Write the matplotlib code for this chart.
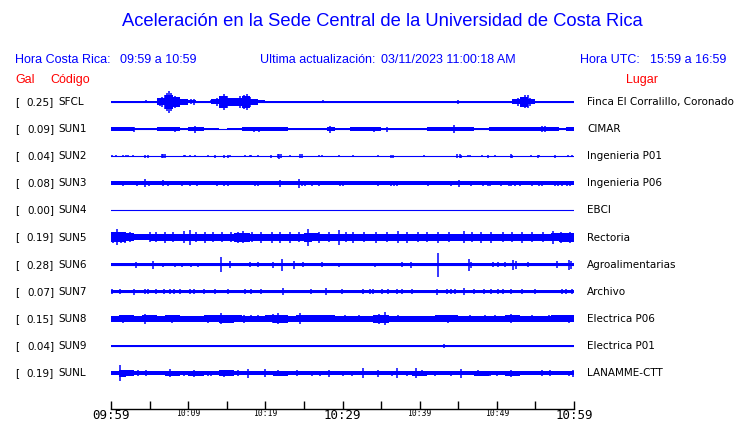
import numpy as np
import matplotlib.pyplot as plt

# station list (top to bottom)
codes = ["SFCL", "SUN1", "SUN2", "SUN3", "SUN4", "SUN5", "SUN6", "SUN7", "SUN8", "SUN9", "SUNL"]
gal = [0.25, 0.09, 0.04, 0.08, 0.00, 0.19, 0.28, 0.07, 0.15, 0.04, 0.19]
places = ["Finca El Corralillo, Coronado", "CIMAR", "Ingenieria P01", "Ingenieria P06", "EBCI",
          "Rectoria", "Agroalimentarias", "Archivo", "Electrica P06", "Electrica P01", "LANAMME-CTT"]

tick_min = [0, 5, 10, 15, 20, 25, 30, 35, 40, 45, 50, 55, 60]
tick_lbl = ["09:59", "", "10:09", "", "10:19", "", "10:29", "", "10:39", "", "10:49", "", "10:59"]
big_lbl = ["09:59", "10:29", "10:59"]

# trace envelopes: half amplitude (screen px) per minute
sfcl_env = [0.5, 1.0, 0.5, 0.5, 0.5, 0.5, 3.5, 7, 5, 3,
            1.5, 1, 0.5, 2.5, 6, 4, 4, 6, 3, 1.5,
            0.5, 0.5, 0.5, 0.5, 0.5, 0.5, 0.5, 0.5, 0.5, 0.5,
            0.5, 0.5, 0.5, 0.5, 0.5, 1, 1, 0.5, 0.5, 0.5,
            0.5, 0.5, 0.5, 1, 0.5, 0.5, 0.5, 0.5, 0.5, 0.5,
            0.5, 0.5, 2.5, 5, 2.5, 1, 0.5, 0.5, 0.5, 0.5]
sun1_env = [1.7, 1.7, 1.7, 1.0, 0.8, 1.0, 1.7, 1.7, 1.7, 1.0,
            1.7, 1.7, 1.0, 1.0, 0.5, 0.8, 1.0, 1.7, 1.7, 1.7,
            1.7, 1.7, 1.7, 1.2, 1.2, 1.2, 1.2, 1.2, 1.7, 0.8,
            0.8, 1.7, 1.7, 1.7, 1.7, 1.2, 1.2, 1.0, 1.0, 0.8,
            1.2, 1.7, 1.7, 1.7, 1.7, 1.7, 1.7, 0.8, 0.8, 1.7,
            1.7, 1.7, 1.7, 1.7, 1.7, 1.7, 1.7, 1.7, 1.2, 1.7]
sun2_env = 0.5
sun3_env = 1.8
sun4_env = 0.5
sun5_env = [5, 5, 4, 3, 3, 3.5, 3.5, 3.5, 3.5, 3.5,
            3.5, 3.5, 3.5, 3.5, 3.5, 3.5, 4.5, 4.5, 3.5, 3.5,
            3.5, 3.5, 3.5, 3.5, 3.5, 4.5, 4, 3.5, 3.5, 3.5,
            3.5, 3.5, 3.5, 3.5, 3.5, 3.5, 3.5, 3.5, 3.5, 3.5,
            3.5, 3.5, 3.5, 3.5, 3.5, 3.5, 3.5, 3.5, 3.5, 3.5,
            3.5, 3.5, 3.5, 3.5, 3.5, 3.5, 3.5, 4, 4.5, 4.5]
sun6_env = 1.8
sun7_env = 1.7
sun8_env = [2.7, 3.5, 3.5, 2.7, 3.5, 3.5, 2.7, 3.5, 3.5, 2.7,
            2.7, 2.7, 3.5, 3.5, 4, 4, 3.5, 2.7, 3, 2.7,
            3.5, 4, 4, 2.7, 3.5, 3.5, 3.5, 3.5, 3.5, 2.7,
            2.7, 2.7, 3, 2.7, 4, 4, 3, 2.7, 2.7, 2.7,
            2.7, 2.7, 3.5, 3.5, 3.5, 2.7, 3, 2.7, 3, 2.7,
            2.7, 3.5, 3.5, 3, 2.7, 3, 2.7, 3.5, 3.5, 3.5]
sun9_env = 1.2
sunl_env = [2, 3.5, 3, 2, 2, 2, 2, 2.5, 2.5, 2,
            2.5, 2.5, 2, 2, 3, 3, 2, 2, 2, 2,
            2, 2.5, 2.5, 2, 2, 2, 2, 2, 2, 2,
            2, 2, 2, 2, 2, 2, 2, 2, 2, 2.5,
            2.5, 2, 2, 2, 2, 2, 2, 2.5, 2.5, 2,
            2, 2.5, 2.5, 2, 2, 2, 2, 2, 2, 2]

# spikes: (minute, half amplitude px)
sfcl_spk = [(0.1, 1.2), (0.5, 1.2), (1.4, 1.2), (1.8, 1.2), (2.2, 1.2), (3.0, 1.2), (3.3, 1.2), (4.5, 1.5),
            (6.3, 4), (6.6, 5), (7.0, 7), (7.3, 9), (7.5, 11), (7.8, 9), (8.3, 6), (8.7, 5),
            (10.4, 2.5), (10.7, 3), (13.0, 1.5), (13.8, 4), (14.2, 6), (14.6, 8), (15.0, 6),
            (16.7, 6), (17.2, 7), (17.6, 8), (18.0, 5), (20.4, 1.2), (21.3, 1.2), (22.5, 1.2),
            (24.1, 1.2), (25.5, 1.2), (27.5, 1.5), (31.2, 1), (38.1, 1.2), (39.4, 1.2), (40.3, 1.2),
            (41.3, 1.2), (42.4, 1.2), (45.0, 2), (46.5, 1.2), (47.2, 1.2), (49.1, 1.2), (49.8, 1.2),
            (50.2, 1.2), (51.3, 1.2), (52.8, 4), (53.3, 5), (53.7, 6.5), (54.0, 6.5), (54.3, 4),
            (54.9, 1.2), (55.8, 1.2), (56.7, 1.2), (57.3, 1.2), (58.9, 1.2)]
sun1_spk = [(3.0, 2.5), (8.3, 2.5), (10.9, 3.5), (18.5, 2.5), (19.2, 2.5), (28.4, 3.5), (34.1, 2.5),
            (35.8, 2.5), (44.4, 4), (55.8, 3), (56.3, 3)]
sun2_spk = [(0.1, 1.2), (0.7, 1.2), (1.6, 1.2), (2.0, 1.2), (2.2, 1.2), (2.9, 1.2), (4.4, 1.5), (4.8, 1.5),
            (6.6, 2), (6.8, 2), (7.0, 2), (9.4, 1.2), (9.6, 1.2), (10.2, 1.2), (10.9, 1.2), (12.6, 1.2),
            (13.5, 1.5), (14.6, 1.5), (15.2, 1.5), (15.4, 1.2), (17.4, 1.2), (18.0, 1.2), (18.2, 1.2),
            (19.1, 1.2), (20.7, 1.5), (21.6, 2), (21.8, 2.5), (22.0, 2), (23.2, 1.2), (24.5, 2),
            (24.8, 2), (26.9, 1.2), (27.3, 1.2), (29.5, 1.2), (31.3, 1.2), (34.6, 1.2), (36.3, 1.5),
            (36.5, 1.5), (40.5, 1.2), (44.9, 2), (45.2, 2), (45.4, 1.5), (46.2, 1.2), (46.5, 1.2),
            (48.1, 1.2), (48.9, 1.5), (49.7, 1.2), (51.8, 2), (52.0, 1.5), (54.4, 1.2), (55.3, 1.5),
            (55.5, 1.2), (57.5, 1.5), (59.2, 1.2), (59.7, 1.2)]
sun3_spk = [(1.5, 2.7), (3.4, 2.7), (4.4, 4), (4.9, 2.7), (6.8, 3), (7.4, 2.7), (9.2, 2.7), (10.2, 2.7),
            (11.1, 2.7), (13.7, 2.7), (14.6, 2.7), (15.2, 2.7), (18.6, 2.7), (19.0, 2.7), (21.9, 3.5),
            (24.4, 4.5), (24.7, 2.7), (25.1, 2.7), (26.0, 2.7), (27.0, 2.7), (29.7, 2.7), (30.1, 2.7),
            (34.6, 2.7), (36.3, 2.7), (36.7, 2.7), (37.0, 2.7), (41.1, 2.7), (44.1, 2.7), (45.1, 3.5),
            (46.7, 2.7), (48.2, 2.7), (48.8, 2.7), (49.1, 2.7), (50.5, 2.7), (51.6, 2.7), (51.9, 2.7),
            (52.3, 2.7), (53.0, 2.7), (54.5, 2.7), (55.4, 2.7), (55.9, 2.7), (57.5, 2.7), (57.9, 2.7),
            (58.4, 2.7), (59.1, 2.7), (59.5, 2.7)]
sun4_spk = []
sun5_spk = [(0.3, 5.5), (0.8, 8), (1.3, 5.5), (1.8, 5.5), (2.4, 5), (5.0, 5), (5.8, 5), (7.0, 5.5),
            (8.0, 5), (9.4, 6), (10.2, 7.5), (11.0, 5), (12.2, 5.5), (13.2, 5), (14.4, 5),
            (15.5, 5), (16.5, 5.5), (17.1, 6), (18.3, 5), (19.5, 5.5), (20.8, 5.5), (21.9, 5.5), (23.2, 5.5),
            (24.3, 5), (25.5, 8.5), (26.9, 5.5), (28.2, 5), (29.5, 7.5), (30.5, 5), (31.4, 5.5),
            (32.8, 5), (34.4, 5.5), (35.8, 5), (37.2, 6), (38.3, 5.5), (39.8, 5), (41.0, 5),
            (42.4, 5.5), (43.8, 5), (45.7, 6), (46.8, 5), (48.0, 5.5), (49.3, 5.5), (50.8, 5),
            (52.0, 5), (53.2, 5.5), (54.5, 5), (56.0, 5), (57.3, 6.5), (58.3, 5.5), (59.5, 5.5)]
sun6_spk = [(3.3, 3), (5.5, 4), (6.8, 2), (8.3, 2), (9.2, 2), (10.4, 2), (11.3, 2), (14.2, 7.5),
            (15.4, 3.5), (18.0, 2.5), (19.1, 2.5), (21.0, 3), (22.1, 6), (23.7, 4), (24.9, 2.5),
            (27.3, 2.5), (29.5, 2), (34.2, 2), (37.7, 2.5), (38.9, 3), (42.4, 12), (46.4, 6), (46.7, 3),
            (49.5, 2.5), (50.2, 2.5), (51.1, 2.5), (52.1, 5), (52.5, 4), (54.1, 2.5), (57.8, 3.5),
            (59.4, 5), (59.6, 4)]
sun7_spk = [(0.1, 2.7), (1.2, 2.7), (3.0, 3), (4.4, 2.7), (4.8, 2.7), (5.8, 2.7), (6.9, 2.7), (7.6, 2.7),
            (8.1, 2.7), (8.9, 2.7), (10.2, 2.7), (10.7, 2.7), (12.0, 2.7), (13.5, 2.7), (15.1, 2.7),
            (17.4, 2.7), (18.2, 2.7), (19.5, 2.7), (22.3, 3.5), (25.9, 2.7), (27.8, 3.5), (29.9, 2.7),
            (32.6, 2.7), (33.6, 2.7), (34.0, 2.7), (35.1, 2.7), (35.9, 2.7), (37.0, 2.7), (37.7, 2.7),
            (39.0, 2.7), (42.3, 3), (43.5, 2.7), (44.1, 2.7), (44.6, 2.7), (45.8, 3.5), (47.0, 2.7),
            (48.3, 2.7), (49.3, 2.7), (50.2, 2.7), (50.8, 2.7), (51.9, 2.7), (53.2, 2.7), (54.9, 2.7),
            (58.4, 2.7), (59.0, 2.7), (59.7, 2.7)]
sun8_spk = [(1.6, 4), (4.4, 5), (4.8, 3.5), (7.9, 4), (12.6, 4), (14.3, 5.5), (15.6, 4), (17.3, 4),
            (18.2, 3.5), (19.1, 3.5), (21.0, 4.5), (21.7, 5.5), (24.5, 5.5), (25.1, 3.5), (26.9, 3.5),
            (27.7, 3.5), (30.3, 3.5), (32.1, 3.5), (34.7, 5), (35.5, 6.5), (37.2, 3.5), (42.4, 3.5),
            (43.7, 4), (44.6, 3.5), (46.5, 3.5), (48.5, 3.5), (49.8, 3.5), (51.8, 4.5), (52.8, 3.5),
            (54.5, 3.5), (56.7, 3.5), (57.8, 3.5), (59.3, 4)]
sun9_spk = [(43.2, 1.8)]
sunl_spk = [(1.2, 8), (1.6, 3.5), (3.5, 3), (4.6, 3), (7.7, 4), (9.5, 2.5), (10.7, 3.5), (12.6, 2.5),
            (13.0, 2.5), (14.6, 3.5), (16.5, 3), (17.8, 4.5), (20.0, 4), (21.6, 3), (22.5, 2.5),
            (24.1, 3), (26.0, 2.5), (27.1, 2.5), (28.2, 3.5), (30.1, 2.5), (31.2, 2.5), (32.6, 5),
            (34.6, 3.5), (36.4, 2.5), (37.1, 5), (38.3, 2.5), (39.5, 5), (40.3, 3), (42.0, 2.5),
            (44.1, 2.5), (45.4, 4.5), (47.6, 3), (49.1, 2.5), (50.0, 2.5), (51.9, 3.5), (55.8, 3),
            (56.9, 3), (59.3, 2.5), (59.9, 3.5)]

envs = [sfcl_env, sun1_env, sun2_env, sun3_env, sun4_env, sun5_env, sun6_env, sun7_env, sun8_env, sun9_env, sunl_env]
spks = [sfcl_spk, sun1_spk, sun2_spk, sun3_spk, sun4_spk, sun5_spk, sun6_spk, sun7_spk, sun8_spk, sun9_spk, sunl_spk]

W, H = 740, 423
ROW0, DY = 102, 27.1          # first trace row and spacing in px
X0, X1, YB, YT = 111, 574, 409, 88
BLUE = "#0000ff"
RED = "#ff0000"


def fp(x, y):
    return x / W, 1 - y / H


fig = plt.figure(figsize=(W / 100, H / 100), dpi=100)
ax = fig.add_axes([X0 / W, 1 - YB / H, (X1 - X0) / W, (YB - YT) / H])
ax.set_xlim(0, 60)
ax.set_ylim(-(YB - ROW0) / DY, (ROW0 - YT) / DY)

edges = np.arange(61)
for i, (env, spk) in enumerate(zip(envs, spks)):
    y0 = -i
    amp = np.broadcast_to(np.asarray(env, dtype=float), (60,)) / DY
    amp = np.append(amp, amp[-1])
    ax.fill_between(edges, y0 - amp, y0 + amp, step="post", color=BLUE, lw=0)
    ax.plot([0, 60], [y0, y0], color=BLUE, lw=0.8)
    if spk:
        t, a = zip(*spk)
        a = np.array(a) / DY
        ax.vlines(t, y0 - a, y0 + a, color=BLUE, lw=1.1)

for s in ["top", "left", "right"]:
    ax.spines[s].set_visible(False)
ax.spines["bottom"].set_linewidth(1)
ax.set_yticks([])
ax.set_xticks(tick_min)
ax.set_xticklabels(tick_lbl, family="DejaVu Sans Mono")
ax.tick_params(axis="x", direction="in", length=5.8, width=1, pad=0)
for lab in ax.get_xticklabels():
    lab.set_fontsize(9 if lab.get_text() in big_lbl else 5.8)

# titles and headers
fig.text(*fp(382, 22), "Aceleración en la Sede Central de la Universidad de Costa Rica",
         color=BLUE, fontsize=13.2, family="Liberation Sans", ha="center", va="center")
hdr = dict(color=BLUE, fontsize=9, family="Liberation Sans", ha="left", va="center")
fig.text(*fp(15, 60), "Hora Costa Rica:", **hdr)
fig.text(*fp(120, 60), "09:59 a 10:59", **hdr)
fig.text(*fp(260, 60), "Ultima actualización:", **hdr)
fig.text(*fp(381, 60), "03/11/2023 11:00:18 AM", **hdr)
fig.text(*fp(580, 60), "Hora UTC:", **hdr)
fig.text(*fp(650, 60), "15:59 a 16:59", **hdr)
red = dict(color=RED, fontsize=9, family="Liberation Sans", ha="left", va="center")
fig.text(*fp(15, 80), "Gal", **red)
fig.text(*fp(50, 80), "Código", **red)
fig.text(*fp(626, 80), "Lugar", **red)

lab = dict(color="black", fontsize=7.5, family="DejaVu Sans", va="center")
for i, (c, g, p) in enumerate(zip(codes, gal, places)):
    y = ROW0 + i * DY
    fig.text(*fp(15, y), "[", ha="left", **lab)
    fig.text(*fp(54, y), f"{g:.2f}]", ha="right", **lab)
    fig.text(*fp(58, y), c, ha="left", **lab)
    fig.text(*fp(587, y), p, ha="left", **lab)

fig.savefig("out.png", dpi=100)
